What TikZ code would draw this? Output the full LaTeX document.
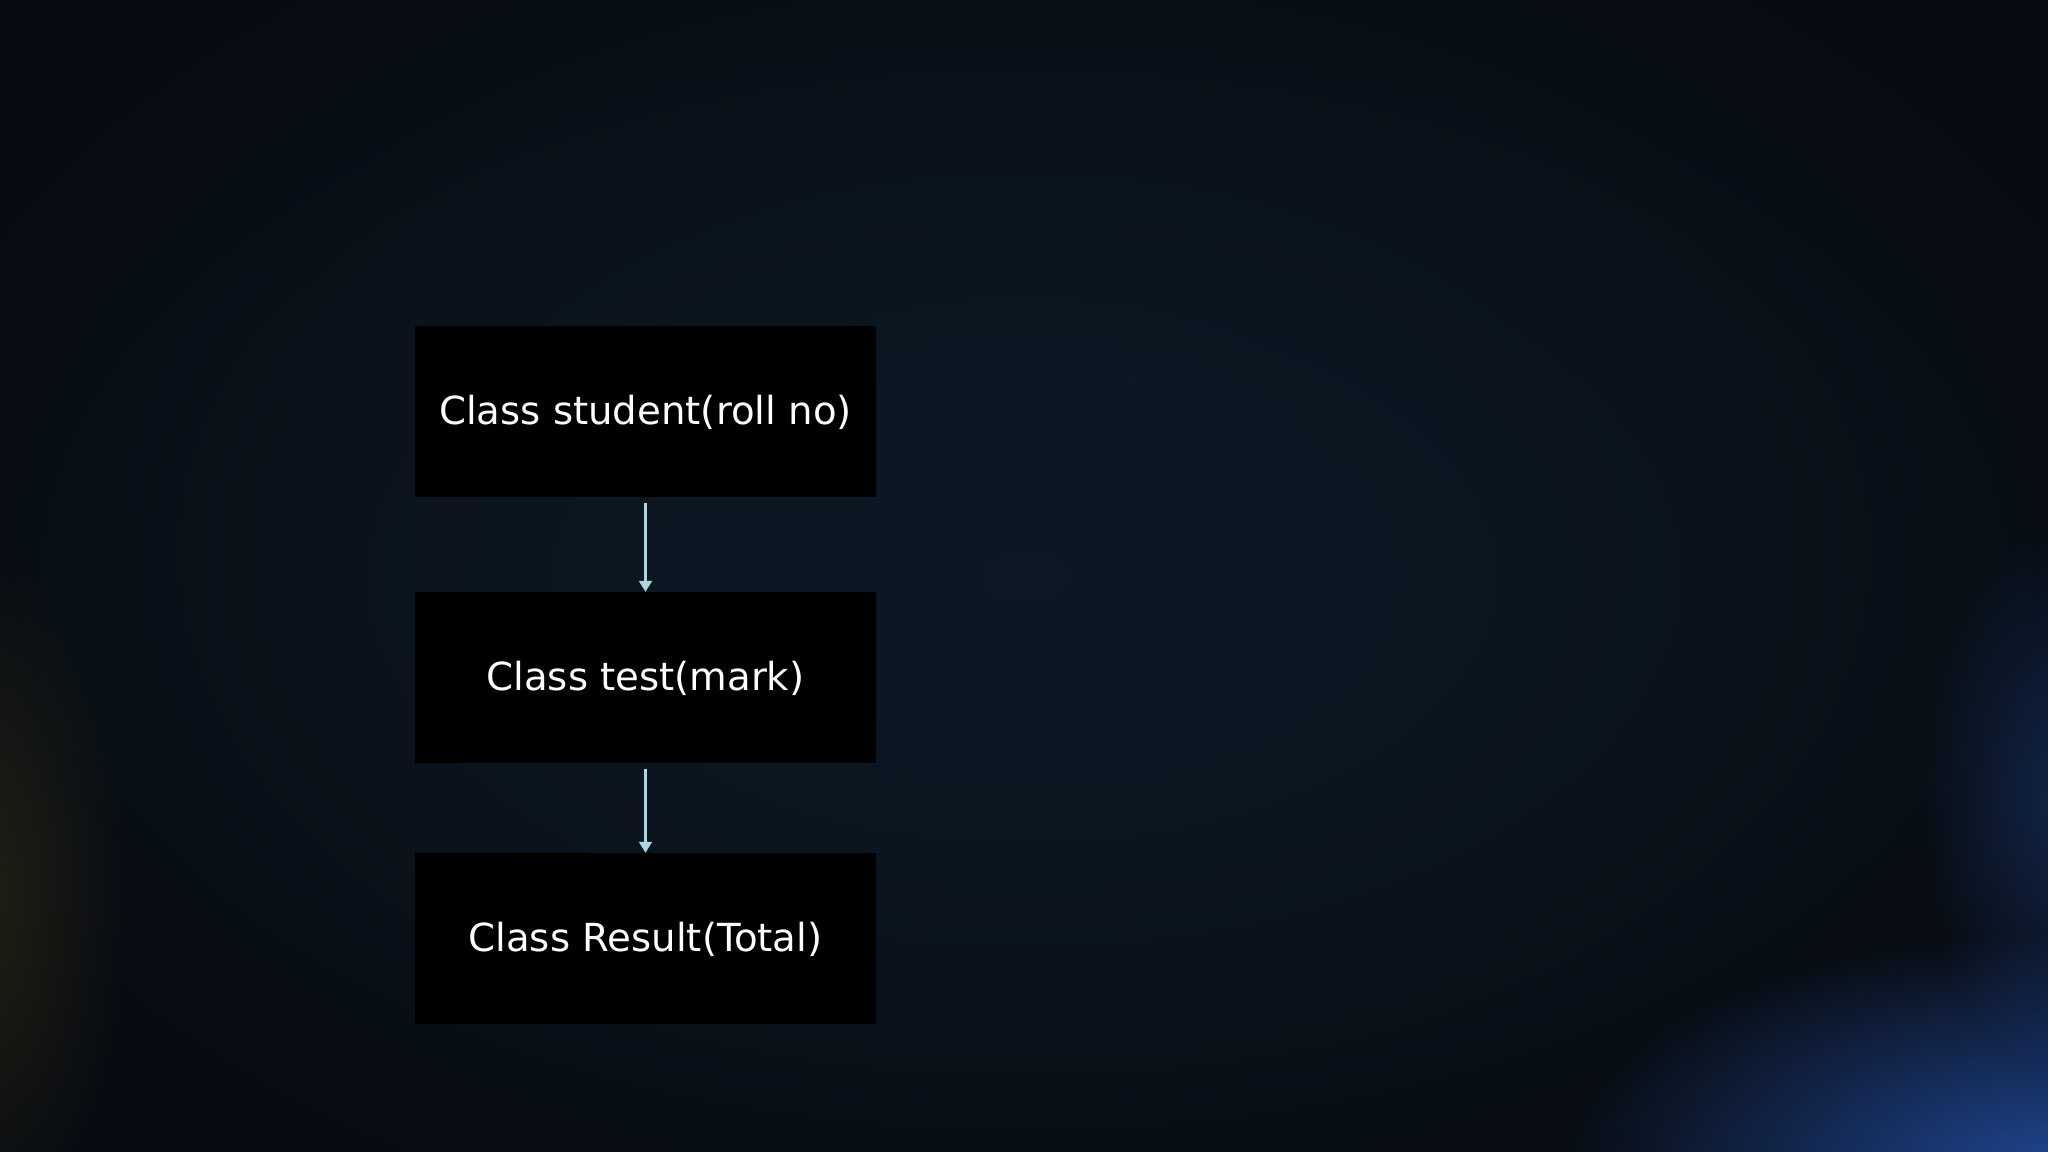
\documentclass[tikz,border=0pt]{standalone}
\usepackage{fontspec}
\setmainfont{DejaVu Sans}
\usetikzlibrary{arrows.meta,fadings}

\definecolor{slidebg}{RGB}{12,24,36}
\definecolor{slideedge}{RGB}{8,12,18}
\definecolor{glowblue}{RGB}{40,90,190}
\definecolor{glowgold}{RGB}{90,80,20}
\definecolor{arrowcol}{RGB}{170,214,228}

\tikzfading[name=glowfade, inner color=transparent!0, outer color=transparent!100]

\tikzset{
  classbox/.style={fill=black, text=white, minimum width=4.61cm, minimum height=1.71cm,
    inner sep=0pt, font=\fontsize{11}{13}\selectfont},
  flow/.style={draw=arrowcol, line width=0.6pt, shorten <=0.5mm,
    -{Triangle[width=1.3mm,length=1.1mm]}}
}

\begin{document}
\begin{tikzpicture}
            % background
            \useasboundingbox (0,0) rectangle (20.48,11.52);
            \shade[inner color=slidebg, outer color=slideedge] (0,0) rectangle (20.48,11.52);
            \fill[slidebg, path fading=glowfade] (10.24,6.0) ellipse (12cm and 7.5cm);
            \fill[glowblue, opacity=0.75, path fading=glowfade] (20.6,-0.2) ellipse (5cm and 2.4cm);
            \fill[glowblue, opacity=0.3, path fading=glowfade] (20.6,3.5) ellipse (1.4cm and 2.8cm);
            \fill[glowgold, opacity=0.3, path fading=glowfade] (-0.2,2.6) ellipse (1.5cm and 3.5cm);
            % class boxes
            \node[classbox] at (6.455,7.40) (S) {Class student(roll no)};
            \node[classbox] at (6.455,4.74) (T) {Class test(mark)};
            \node[classbox] at (6.455,2.13) (R) {Class Result(Total)};
            % connectors
            \draw[flow] (S) -- (T);
            \draw[flow] (T) -- (R);
          \end{tikzpicture}
\end{document}
